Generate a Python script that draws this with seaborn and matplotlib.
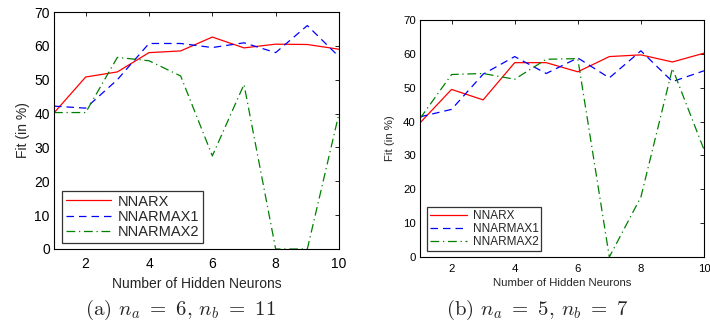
import numpy as np
import pandas as pd
import matplotlib
matplotlib.use("Agg")
import matplotlib.pyplot as plt
import seaborn as sns

neurons = list(range(1, 11))

# (a) na=6, nb=11
a_nnarx = [40.2, 50.8, 52.3, 58.0, 58.5, 62.6, 59.4, 60.5, 60.4, 59.0]
a_nnarmax1 = [42.2, 41.6, 50.0, 60.7, 60.7, 59.5, 60.9, 58.0, 66.0, 56.8]
a_nnarmax2 = [40.3, 40.3, 56.6, 55.6, 51.1, 27.5, 48.6, 0.0, 0.0, 40.0]

# (b) na=5, nb=7
b_nnarx = [39.6, 49.5, 46.4, 57.4, 57.4, 54.7, 59.2, 59.7, 57.6, 60.2]
b_nnarmax1 = [41.4, 43.6, 54.0, 59.2, 54.2, 58.8, 52.9, 60.9, 51.8, 55.0]
b_nnarmax2 = [40.9, 53.9, 54.2, 52.5, 58.4, 58.6, 0.0, 17.7, 55.7, 31.7]

series = ["NNARX", "NNARMAX1", "NNARMAX2"]
captions = [r"(a) $n_a\ =\ 6$, $n_b\ =\ 11$", r"(b) $n_a\ =\ 5$, $n_b\ =\ 7$"]

sns.set_style("white")
plt.rcParams["font.family"] = ["Liberation Sans", "DejaVu Sans"]
plt.rcParams["mathtext.fontset"] = "cm"

colors = {"NNARX": "#ff0000", "NNARMAX1": "#0000ff", "NNARMAX2": "#008000"}
styles = {"NNARX": "-", "NNARMAX1": (0, (6, 4)), "NNARMAX2": (0, (7, 3, 1, 3))}

fig = plt.figure(figsize=(7.1, 3.26), dpi=100)
# axes rectangles in figure fraction
ax_a = fig.add_axes([54 / 710, 1 - 249 / 326, 285 / 710, 237 / 326])
ax_b = fig.add_axes([420 / 710, 1 - 257 / 326, 284 / 710, 237 / 326])

panels = [
    (ax_a, [a_nnarx, a_nnarmax1, a_nnarmax2], 10, 10.5, (0.028, 0.025), 3, 6, 4),
    (ax_b, [b_nnarx, b_nnarmax1, b_nnarmax2], 8.2, 8.5, (0.025, 0.025), 6, 5, 3),
]

for i, (ax, vals, fs, lfs, anchor, ypad, xpad, xlpad) in enumerate(panels):
    df = pd.DataFrame({
        "x": neurons * 3,
        "y": vals[0] + vals[1] + vals[2],
        "s": sum([[s] * 10 for s in series], []),
    })
    for s in series:
        sns.lineplot(data=df[df.s == s], x="x", y="y", ax=ax, color=colors[s],
                     linestyle=styles[s], linewidth=0.9, label=s)
    ax.set_xlim(1, 10)
    ax.set_ylim(0, 70)
    ax.set_xticks([2, 4, 6, 8, 10])
    ax.set_yticks(range(0, 71, 10))
    ax.tick_params(direction="in", top=True, right=True, length=3, width=0.6,
                   labelsize=fs, pad=3, colors="black")
    ax.tick_params(axis="x", pad=xpad)
    for sp in ax.spines.values():
        sp.set_linewidth(0.8)
        sp.set_color("black")
    ax.set_xlabel("Number of Hidden Neurons", fontsize=fs, labelpad=xlpad)
    ax.set_ylabel("Fit (in %)", fontsize=fs, labelpad=ypad)
    leg = ax.legend(loc="lower left", bbox_to_anchor=anchor, fontsize=lfs,
                    frameon=True, fancybox=False, handlelength=3.1,
                    borderpad=0.25, labelspacing=0.1, handletextpad=0.5,
                    borderaxespad=0)
    leg.get_frame().set_edgecolor("black")
    leg.get_frame().set_linewidth(0.9)

fig.text(180 / 710, 1 - 310 / 326, captions[0], fontsize=15, ha="center",
         va="center", family="cmr10")
fig.text(537 / 710, 1 - 310 / 326, captions[1], fontsize=15, ha="center",
         va="center", family="cmr10")

fig.savefig("out.png", dpi=100)
